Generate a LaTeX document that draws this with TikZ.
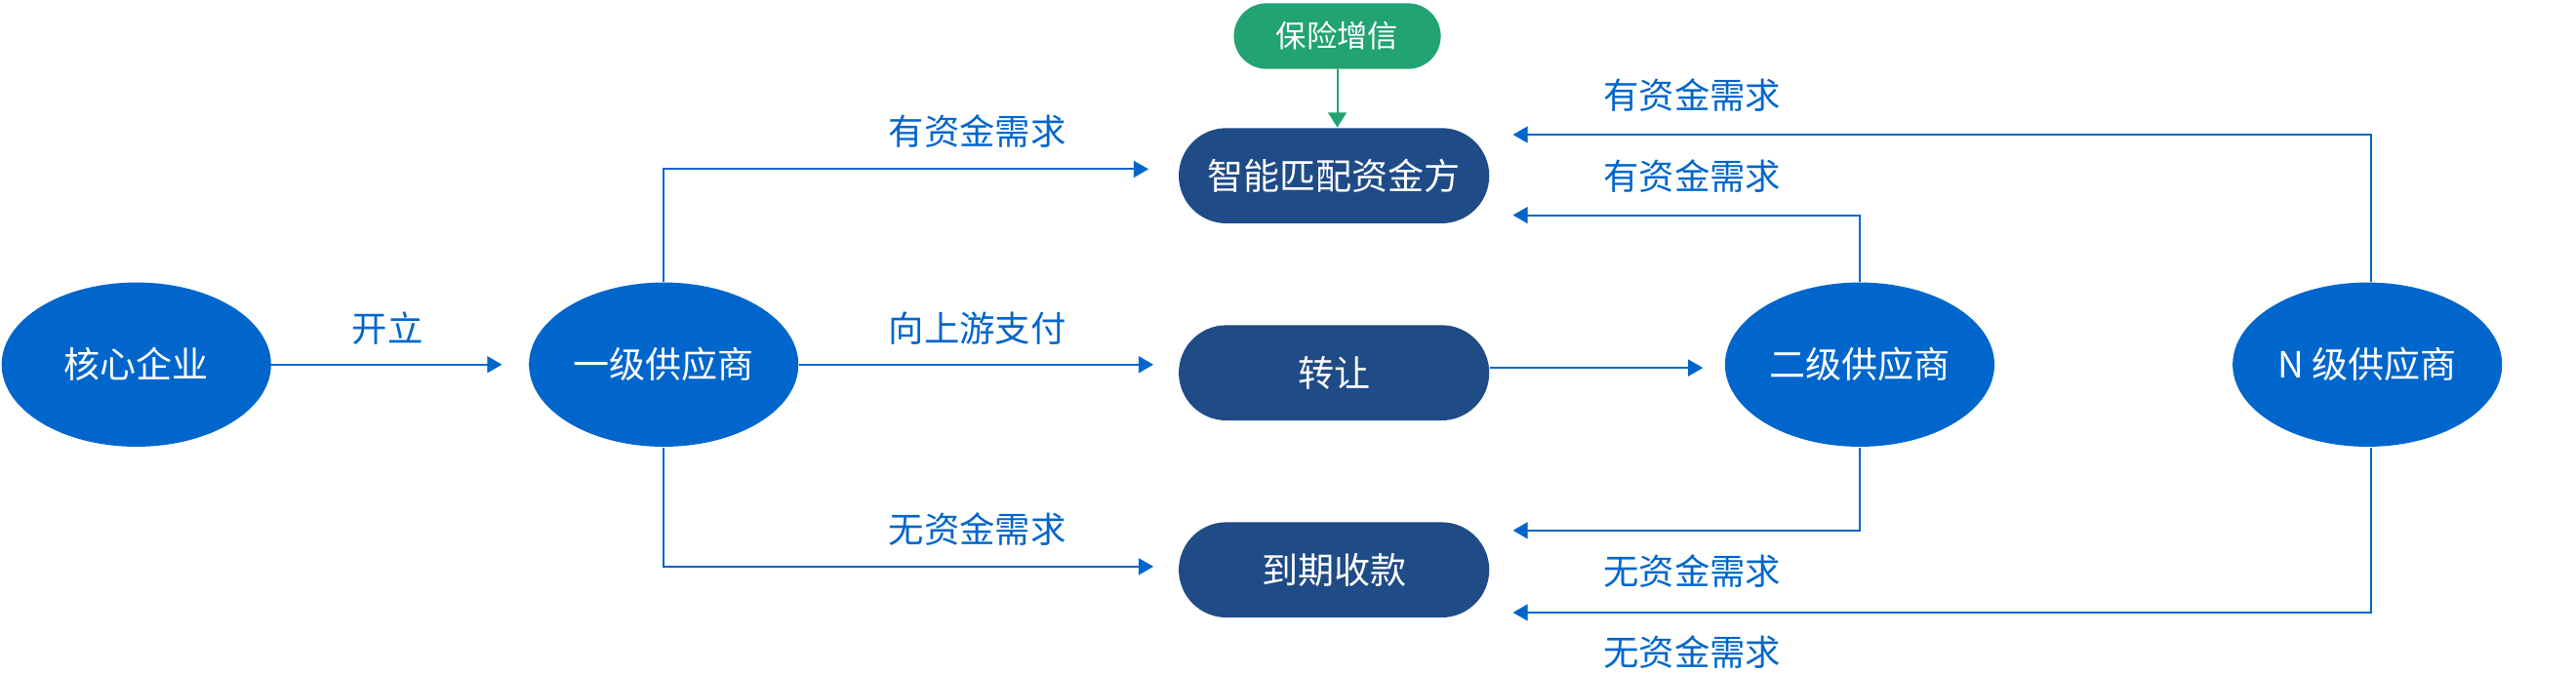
\documentclass[tikz,border=0pt]{standalone}
\usepackage{fontspec}
\setmainfont{Noto Sans CJK SC}
\usetikzlibrary{shapes.geometric,arrows.meta,calc}
\definecolor{cblue}{HTML}{0066CC}
\definecolor{cnavy}{HTML}{1F4B87}
\definecolor{cgreen}{HTML}{22A373}
\tikzset{
  party/.style={ellipse,fill=cblue,text=white,minimum width=82pt,minimum height=50pt,inner sep=0pt,font=\fontsize{11}{13}\selectfont},
  pill/.style={rectangle,rounded corners=14.5pt,fill=cnavy,text=white,minimum width=94.5pt,minimum height=29pt,inner sep=0pt,font=\fontsize{11}{13}\selectfont},
  greenpill/.style={rectangle,rounded corners=10pt,fill=cgreen,text=white,minimum width=63pt,minimum height=20pt,inner sep=0pt,font=\fontsize{9.3}{11}\selectfont},
  flow/.style={draw=cblue,line width=0.6pt,-{Triangle[length=4.5pt,width=5pt]}},
  gflow/.style={draw=cgreen,line width=0.6pt,-{Triangle[length=4.5pt,width=5.5pt]}},
  lbl/.style={text=cblue,inner sep=0pt,font=\fontsize{10.8}{13}\selectfont}
}
\begin{document}
\begin{tikzpicture}[x=0.5pt,y=-0.5pt]
\useasboundingbox (0,0) rectangle (1568,410);
% nodes
\node[party] (core) at (83,222) {核心企业};
\node[party] (s1) at (404,222) {一级供应商};
\node[pill] (match) at (812,107) {智能匹配资金方};
\node[greenpill] (ins) at (814,22) {保险增信};
\node[pill] (transfer) at (812,227) {转让};
\node[pill] (due) at (812,347) {到期收款};
\node[party] (s2) at (1132,222) {二级供应商};
\node[party] (sN) at (1441,222) {N 级供应商};
% connectors
\draw[flow,shorten >=8pt] (core.east) -- (s1.west);
\draw[flow] (s1.north) |- ([xshift=-9pt,yshift=2pt]match.west);
\draw[flow,shorten >=7.5pt] (s1.east) -- (s1.east -| transfer.west);
\draw[flow] (s1.south) |- ([xshift=-7.5pt,yshift=1pt]due.west);
\draw[gflow] (ins.south) -- (ins.south |- match.north);
\draw[flow,shorten >=6.5pt] ([yshift=1.5pt]transfer.east) -- ([yshift=1.5pt]transfer.east -| s2.west);
\draw[flow] (s2.north) |- ([xshift=7pt,yshift=-12pt]match.east);
\draw[flow] ([xshift=1pt]sN.north) |- ([xshift=7pt,yshift=12.5pt]match.east);
\draw[flow] (s2.south) |- ([xshift=7pt,yshift=12pt]due.east);
\draw[flow] ([xshift=1pt]sN.south) |- ([xshift=7pt,yshift=-13pt]due.east);
% labels
\node[lbl] (l1) at (236,200) {开立};
\node[lbl] (l2) at (595,80) {有资金需求};
\node[lbl] (l3) at (595,200) {向上游支付};
\node[lbl] (l4) at (595,322) {无资金需求};
\node[lbl] (l5) at (1030,58) {有资金需求};
\node[lbl] (l6) at (1030,107) {有资金需求};
\node[lbl] (l7) at (1030,348) {无资金需求};
\node[lbl] (l8) at (1030,397) {无资金需求};
\end{tikzpicture}
\end{document}
